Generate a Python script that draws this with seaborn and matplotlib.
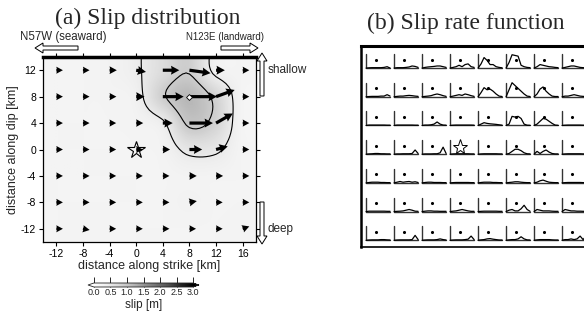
import numpy as np
import matplotlib
matplotlib.use("Agg")
import matplotlib.pyplot as plt
from matplotlib.patches import FancyArrow
from matplotlib.transforms import IdentityTransform
import seaborn as sns

sns.set_theme(style="ticks")
plt.rcParams["font.family"] = ["Liberation Sans", "DejaVu Sans"]
plt.rcParams["axes.unicode_minus"] = False

# ─── data ────────────────────────────────────────────────────────────────────
strike_km = [-12, -8, -4, 0, 4, 8, 12, 16]
dip_km = [12, 8, 4, 0, -4, -8, -12]

# slip amplitude [m] at each knot, rows = dip (top to bottom), cols = strike
slip = [
    [0.30, 0.30, 0.33, 0.45, 0.75, 0.97, 0.40, 0.30],
    [0.30, 0.30, 0.31, 0.38, 0.95, 1.25, 0.90, 0.30],
    [0.30, 0.30, 0.30, 0.32, 0.45, 1.07, 0.88, 0.30],
    [0.30, 0.30, 0.30, 0.30, 0.33, 0.58, 0.55, 0.30],
    [0.30, 0.30, 0.30, 0.30, 0.30, 0.33, 0.32, 0.30],
    [0.30, 0.30, 0.30, 0.30, 0.30, 0.34, 0.30, 0.30],
    [0.30, 0.31, 0.30, 0.30, 0.30, 0.30, 0.30, 0.32],
]
# rake [deg] measured from the strike direction
rake = [
    [0, 0, 0, -10, 0, -8, 0, 0],
    [0, 0, 0, 0, 0, 0, 20, 0],
    [0, 0, 0, 0, 0, 0, 30, 0],
    [0, 0, 0, 0, 0, 0, 15, 0],
    [0, 0, 0, 0, 0, 0, 0, 0],
    [0, 0, 0, 0, 0, 10, 0, 0],
    [0, -10, 0, 0, 0, 0, 0, 20],
]
hypocenter = (0, 0)
peak_knot = (8, 8)
contour_levels = [0.5, 1.0]
cbar_ticks = [0.0, 0.5, 1.0, 1.5, 2.0, 2.5, 3.0]

# slip rate functions (normalised, 9 samples each), one list per dip row
srf_y12 = [
    [0, .02, .03, .03, .03, .03, .05, .10, 0],
    [0, .03, .03, .03, .05, .08, .15, .12, .05],
    [0, .05, .08, .10, .12, .15, .15, .10, .05],
    [0, .05, .10, .20, .10, .25, .30, .10, .05],
    [0, .30, .75, .55, .25, .25, .10, .05, .02],
    [0, .40, .95, .90, .85, .20, .10, .05, .03],
    [0, .10, .25, .20, .15, .10, .08, .05, .03],
    [0, .05, .10, .15, .15, .10, .05, .03, .02],
]
srf_y8 = [
    [0, .02, .03, .03, .03, .05, .05, .15, .05],
    [0, .03, .05, .05, .08, .10, .08, .05, .03],
    [0, .03, .05, .08, .15, .20, .15, .08, .03],
    [0, .05, .10, .15, .10, .20, .15, .08, .03],
    [0, .30, .65, .50, .55, .40, .20, .05, .02],
    [0, .50, 1.0, .80, .60, .40, .20, .05, .02],
    [0, .20, .55, .70, .40, .20, .05, .02, .02],
    [0, .05, .05, .10, .15, .10, .05, .03, .02],
]
srf_y4 = [
    [0, .03, .03, .03, .03, .03, .03, .02, .02],
    [0, .03, .03, .03, .03, .03, .03, .02, .02],
    [0, .03, .03, .05, .10, .25, .10, .03, .02],
    [0, .02, .03, .03, .03, .03, .03, .03, .02],
    [0, .10, .20, .15, .12, .10, .08, .05, .02],
    [0, .10, .65, .60, .65, .50, .10, .02, .01],
    [0, .10, .30, .50, .45, .30, .15, .03, .01],
    [0, .02, .03, .03, .03, .03, .03, .02, .02],
]
srf_y0 = [
    [0, .02, .03, .05, .05, .03, .03, .02, .02],
    [0, .02, .02, .03, .03, .03, .05, .30, .05],
    [0, .02, .02, .02, .03, .03, .10, .50, .05],
    [0, .02, .03, .03, .03, .03, .03, .02, .02],
    [0, .02, .03, .03, .03, .03, .03, .02, .02],
    [0, .05, .20, .35, .35, .25, .10, .03, .02],
    [0, .20, .05, .20, .30, .15, .05, .02, .02],
    [0, .02, .03, .03, .03, .03, .03, .02, .02],
]
srf_ym4 = [
    [0, .03, .05, .05, .05, .03, .03, .02, .02],
    [0, .05, .10, .05, .08, .10, .05, .08, .03],
    [0, .03, .05, .05, .03, .03, .03, .02, .02],
    [0, .02, .03, .03, .03, .03, .03, .02, .02],
    [0, .03, .05, .05, .05, .03, .03, .02, .02],
    [0, .03, .05, .08, .08, .05, .03, .02, .02],
    [0, .05, .15, .20, .12, .05, .03, .02, .02],
    [0, .02, .03, .03, .03, .03, .03, .02, .02],
]
srf_ym8 = [
    [0, .03, .03, .03, .03, .03, .03, .02, .02],
    [0, .02, .03, .05, .10, .15, .10, .03, .02],
    [0, .03, .05, .05, .03, .03, .02, .02, .02],
    [0, .03, .05, .10, .15, .10, .05, .02, .02],
    [0, .02, .03, .03, .03, .03, .03, .02, .02],
    [0, .10, .15, .05, .05, .20, .45, .15, .02],
    [0, .15, .10, .05, .05, .05, .03, .02, .02],
    [0, .15, .10, .05, .05, .03, .03, .02, .02],
]
srf_ym12 = [
    [0, .02, .03, .03, .03, .05, .05, .03, .02],
    [0, .02, .03, .03, .03, .03, .05, .35, .05],
    [0, .02, .03, .03, .03, .05, .10, .05, .02],
    [0, .02, .03, .03, .03, .05, .08, .30, .05],
    [0, .03, .05, .10, .12, .08, .05, .02, .02],
    [0, .03, .05, .05, .10, .25, .10, .03, .02],
    [0, .03, .05, .05, .05, .05, .03, .02, .02],
    [0, .05, .05, .10, .05, .10, .30, .05, .30],
]
srf_rows = [srf_y12, srf_y8, srf_y4, srf_y0, srf_ym4, srf_ym8, srf_ym12]
srf_dot = (0.42, 0.6)


# ─── helpers ─────────────────────────────────────────────────────────────────
def cubic_matrix(n_in, factor):
    """Catmull-Rom resampling matrix (n_out x n_in)."""
    pos = np.linspace(0, n_in - 1, (n_in - 1) * factor + 1)
    W = np.zeros((pos.size, n_in))
    for k, p in enumerate(pos):
        i = min(int(np.floor(p)), n_in - 2)
        t = p - i
        w = [-0.5 * t**3 + t**2 - 0.5 * t,
             1.5 * t**3 - 2.5 * t**2 + 1,
             -1.5 * t**3 + 2 * t**2 + 0.5 * t,
             0.5 * t**3 - 0.5 * t**2]
        for off, wk in zip((-1, 0, 1, 2), w):
            W[k, int(np.clip(i + off, 0, n_in - 1))] += wk
    return W


fig = plt.figure(figsize=(5.84, 3.27), dpi=100)
W_PX, H_PX = 584, 327


def px_axes(left, top, right, bottom):
    return fig.add_axes([left / W_PX, 1 - bottom / H_PX,
                         (right - left) / W_PX, (bottom - top) / H_PX])


# ─── (a) slip distribution ───────────────────────────────────────────────────
ax = px_axes(43, 57, 256, 242)
slip_arr = np.array(slip)
padded = np.pad(slip_arr, 1, mode="edge")
f = 8
fine = cubic_matrix(padded.shape[0], f) @ padded @ cubic_matrix(padded.shape[1], f).T
xs = np.linspace(strike_km[0] - 4, strike_km[-1] + 4, fine.shape[1])
ys = np.linspace(dip_km[0] + 4, dip_km[-1] - 4, fine.shape[0])

ax.imshow(fine, cmap="Greys", vmin=0, vmax=3.2, origin="upper",
          extent=(xs[0], xs[-1], ys[-1], ys[0]), interpolation="bilinear",
          aspect="auto", zorder=0)
ax.contour(xs, ys, fine, levels=contour_levels, colors="black", linewidths=0.8, zorder=2)

X, Y = np.meshgrid(strike_km, dip_km)
ang = np.deg2rad(np.array(rake))
ax.quiver(X, Y, slip_arr * np.cos(ang), slip_arr * np.sin(ang),
          angles="xy", scale_units="xy", scale=1 / 3.3, width=0.015,
          headwidth=2.8, headlength=2.6, headaxislength=2.4,
          color="black", zorder=3)
ax.plot(*peak_knot, marker="D", ms=3, mfc="white", mec="black", mew=0.6, zorder=4)
ax.plot(*hypocenter, marker="*", ms=13, mfc="none", mec="black", mew=0.8, zorder=5)

ax.set_xlim(-14, 18)
ax.set_ylim(-14, 14)
ax.set_xticks(strike_km)
ax.set_yticks(dip_km)
ax.tick_params(direction="out", length=3, width=0.8, labelsize=7.5, pad=2,
               top=True, right=True, colors="black")
for s in ax.spines.values():
    s.set_linewidth(0.9)
    s.set_color("black")
ax.spines["top"].set_linewidth(2.5)
ax.set_xlabel("distance along strike [km]", fontsize=9, labelpad=1)
ax.set_ylabel("distance along dip [km]", fontsize=9, labelpad=1)

fig.text(148 / W_PX, 1 - 18 / H_PX, "(a) Slip distribution", family="Liberation Serif",
         fontsize=17, ha="center", va="center")
fig.text(63 / W_PX, 1 - 37 / H_PX, "N57W (seaward)", fontsize=8.3, ha="center", va="center")
fig.text(225 / W_PX, 1 - 37 / H_PX, "N123E (landward)", fontsize=7, ha="center", va="center")
fig.text(268 / W_PX, 1 - 70 / H_PX, "shallow", fontsize=8.5, ha="left", va="center")
fig.text(268 / W_PX, 1 - 229 / H_PX, "deep", fontsize=8.5, ha="left", va="center")

arrow_kw = dict(width=4, head_width=10, head_length=8, length_includes_head=True,
                fc="white", ec="black", lw=0.7, transform=IdentityTransform())
fig.add_artist(FancyArrow(78, H_PX - 48, -43, 0, **arrow_kw))
fig.add_artist(FancyArrow(221, H_PX - 48, 37, 0, **arrow_kw))
fig.add_artist(FancyArrow(262, H_PX - 96, 0, 43, **arrow_kw))
fig.add_artist(FancyArrow(262, H_PX - 202, 0, -42, **arrow_kw))

# colorbar
cax = px_axes(88, 283, 199, 287)
sm = plt.cm.ScalarMappable(cmap=plt.get_cmap("Greys").with_extremes(under="white", over="black"),
                           norm=plt.Normalize(0, 3))
cb = fig.colorbar(sm, cax=cax, orientation="horizontal", extend="both",
                  extendfrac=0.06, ticks=cbar_ticks)
cb.outline.set_linewidth(0.6)
cb.ax.tick_params(direction="in", length=7, width=0.7, labelsize=6.5, pad=1)
cb.ax.set_xticklabels([f"{t:.1f}" for t in cbar_ticks])
cb.set_label("slip [m]", fontsize=8.5, labelpad=1)

# ─── (b) slip rate functions ─────────────────────────────────────────────────
bx = px_axes(361, 46, 592, 247)
bx.set_xlim(0, 231 / 28)
bx.set_ylim(201 / 28.7, 0)
bx.set_xticks([])
bx.set_yticks([])
for s in bx.spines.values():
    s.set_color("black")
    s.set_linewidth(1.2)
bx.spines["top"].set_linewidth(2.2)
bx.spines["left"].set_linewidth(1.8)

cw, ch = 0.86, 0.49
t = np.linspace(0, 1, 9)
dots_x, dots_y = [], []
for i, row in enumerate(srf_rows):
    for j, wave in enumerate(row):
        x0 = j + 0.18
        y0 = i + 0.77
        bx.plot([x0, x0, x0 + cw], [y0 - ch, y0, y0], color="#333333", lw=1.0)
        bx.plot(x0 + t * cw, y0 - np.array(wave) * ch, color="black", lw=0.9)
        if (strike_km[j], dip_km[i]) == hypocenter:
            bx.plot(x0 + 0.4 * cw, y0 - 0.5 * ch, marker="*", ms=11, mfc="none",
                    mec="black", mew=0.7)
        else:
            dots_x.append(x0 + srf_dot[0] * cw)
            dots_y.append(y0 - srf_dot[1] * ch)
sns.scatterplot(x=dots_x, y=dots_y, ax=bx, color="black", s=5, linewidth=0)

fig.text(466 / W_PX, 1 - 23 / H_PX, "(b) Slip rate function", family="Liberation Serif",
         fontsize=17, ha="center", va="center")

fig.savefig("out.png", dpi=100)
plt.close(fig)
